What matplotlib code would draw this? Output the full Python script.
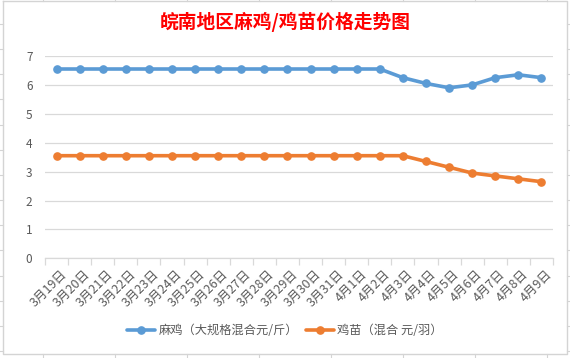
import matplotlib
matplotlib.use("Agg")
import matplotlib.pyplot as plt
from matplotlib.lines import Line2D
import numpy as np

plt.rcParams['font.family'] = ['Noto Sans CJK SC', 'DejaVu Sans']

title = "皖南地区麻鸡/鸡苗价格走势图"
categories = ["3月19日", "3月20日", "3月21日", "3月22日", "3月23日", "3月24日",
              "3月25日", "3月26日", "3月27日", "3月28日", "3月29日", "3月30日",
              "3月31日", "4月1日", "4月2日", "4月3日", "4月4日", "4月5日",
              "4月6日", "4月7日", "4月8日", "4月9日"]
adult_label = "麻鸡（大规格混合元/斤）"
adult_values = [6.55, 6.55, 6.55, 6.55, 6.55, 6.55, 6.55, 6.55, 6.55, 6.55,
                6.55, 6.55, 6.55, 6.55, 6.55, 6.25, 6.05, 5.9, 6.0, 6.25,
                6.35, 6.25]
chick_label = "鸡苗（混合 元/羽）"
chick_values = [3.55, 3.55, 3.55, 3.55, 3.55, 3.55, 3.55, 3.55, 3.55, 3.55,
                3.55, 3.55, 3.55, 3.55, 3.55, 3.55, 3.35, 3.15, 2.95, 2.85,
                2.75, 2.65]
y_ticks = [0, 1, 2, 3, 4, 5, 6, 7]

W, H = 570, 358
fig = plt.figure(figsize=(W / 100, H / 100), dpi=100)
fig.patch.set_facecolor("white")

# decorative frame / spreadsheet background
bg = fig.add_axes([0, 0, 1, 1])
bg.set_xlim(0, W)
bg.set_ylim(H, 0)
bg.axis("off")
gc = "#D4D4D4"
bg.add_line(Line2D([3, 567, 567, 3, 3], [0.5, 0.5, 354, 354, 0.5], color=gc, lw=1.0))
for xc in [42.5, 114.5, 186.5, 258.5, 330.5, 402.5, 474.5, 546.5]:
    bg.add_line(Line2D([xc, xc], [0, 0.5], color=gc, lw=0.8))
    bg.add_line(Line2D([xc, xc], [354, 358], color=gc, lw=0.8))
for k in range(14):
    yr = 24 + 25.15 * k
    bg.add_line(Line2D([0, 3], [yr, yr], color=gc, lw=0.8))
    bg.add_line(Line2D([567, 570], [yr, yr], color=gc, lw=0.8))

left, right = 45 / W, 553 / W
top, bottom = 1 - 56 / H, 1 - 258.3 / H
ax = fig.add_axes([left, bottom, right - left, top - bottom])
ax.set_facecolor("none")

x = np.arange(len(categories))
blue = "#5B9BD5"
orange = "#ED7D31"
ax.plot(x, adult_values, color=blue, lw=2.6, marker="o", ms=5.2,
        label=adult_label, solid_capstyle="round", zorder=3)
ax.plot(x, chick_values, color=orange, lw=2.6, marker="o", ms=5.2,
        label=chick_label, solid_capstyle="round", zorder=3)

ax.set_xlim(-0.5, len(categories) - 0.5)
ax.set_ylim(0, 7)
ax.set_yticks(y_ticks)
ax.yaxis.grid(True, color="#D9D9D9", lw=0.9)
ax.set_axisbelow(True)
for s in ["left", "right", "top"]:
    ax.spines[s].set_visible(False)
ax.spines["bottom"].set_color("#D9D9D9")
ax.spines["bottom"].set_linewidth(0.9)
ax.tick_params(axis="y", length=0, pad=9, labelsize=8.5, labelcolor="#595959")

ax.set_xticks(x + 0.15)
ax.set_xticklabels(categories, rotation=45, ha="right", va="top",
                   rotation_mode="anchor", fontsize=9, color="#595959")
ax.tick_params(axis="x", which="major", length=0, pad=7)
ax.set_xticks(np.arange(-0.5, len(categories), 1.0), minor=True)
ax.tick_params(axis="x", which="minor", length=5, color="#D9D9D9", width=0.9)

fig.text(0.5, 1 - 22 / H, title, ha="center", va="center", color="#FF0000",
         fontsize=13.5, fontweight="bold")

leg = fig.legend(loc="center", bbox_to_anchor=(0.5, 1 - 331 / H), ncol=2,
                 frameon=False, fontsize=8.8, handlelength=2.3,
                 columnspacing=0.6, handletextpad=0.3)
for t in leg.get_texts():
    t.set_color("#595959")

fig.savefig("out.png", dpi=100, facecolor="white")
